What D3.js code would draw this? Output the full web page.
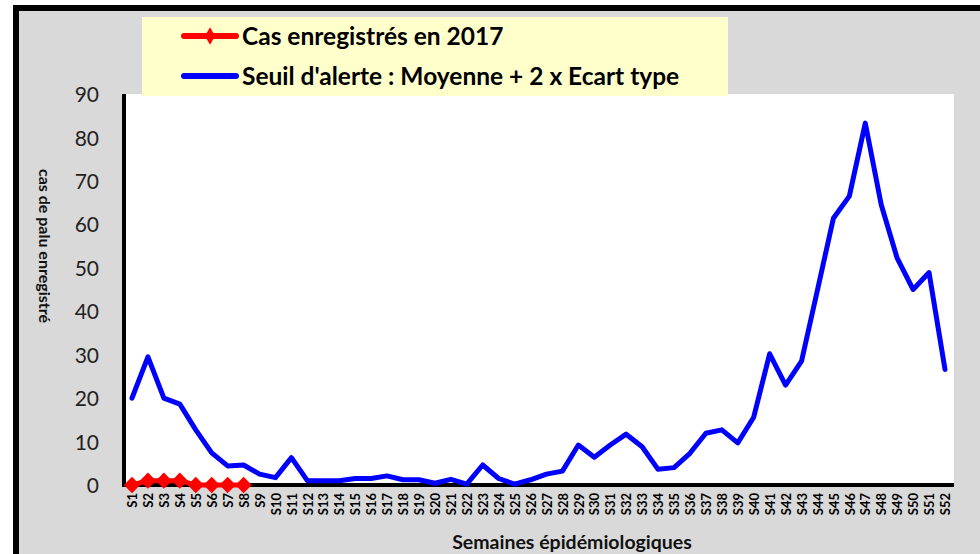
<!DOCTYPE html>
<html>
<head>
<meta charset="utf-8">
<script src="https://cdn.jsdelivr.net/npm/d3@7"></script>
<style>
  body { margin: 0; background: #fff; }
  text { font-family: Lato, "Open Sans", sans-serif; }
</style>
</head>
<body>
<div id="chart"></div>
<script>
// weeks S1..S52
const weeks = d3.range(1, 53).map(i => 'S' + i);

// cas enregistrés en 2017 (S1..S8)
const cases2017 = [0, 1, 1, 1, 0, 0, 0, 0];

// seuil d'alerte : moyenne + 2 x ecart type
const threshold = [20, 29.5, 20, 18.6, 12.7, 7.4, 4.4, 4.6, 2.5, 1.7,
  6.3, 1, 1, 1, 1.5, 1.5, 2.1, 1.2, 1.2, 0.4,
  1.3, 0.2, 4.6, 1.5, 0.2, 1.2, 2.5, 3.2, 9.2, 6.4,
  9.2, 11.7, 8.8, 3.6, 4.0, 7.3, 11.9, 12.7, 9.7, 15.6,
  30.2, 23, 28.5, 44.9, 61.4, 66.5, 83.3, 64.5, 52.2, 45,
  48.9, 26.6];

const yTicks = [0, 10, 20, 30, 40, 50, 60, 70, 80, 90];

const legendLabels = ['Cas enregistrés en 2017', "Seuil d'alerte : Moyenne + 2 x Ecart type"];

const width = 980, height = 554;
const svg = d3.select('#chart').append('svg').attr('width', width).attr('height', height);

// background panel with thick border
svg.append('rect')
  .attr('x', 16).attr('y', 8)
  .attr('width', width + 10).attr('height', height + 10)
  .style('fill', '#d9d9d9')
  .style('stroke', 'black')
  .style('stroke-width', 6);

const plot = { left: 126, right: 954, top: 94, bottom: 485 };

// white plot area
svg.append('rect')
  .attr('x', plot.left).attr('y', plot.top)
  .attr('width', plot.right - plot.left).attr('height', plot.bottom - plot.top)
  .style('fill', 'white');

const x = d3.scalePoint().domain(weeks).range([132, 945]);
const y = d3.scaleLinear().domain([0, 90]).range([plot.bottom, plot.top]);

// y axis
const yAxis = svg.append('g')
  .attr('transform', `translate(${124},0)`)
  .call(d3.axisLeft(y).tickValues(yTicks).tickSize(0).tickPadding(25));
yAxis.select('.domain').attr('d', `M0,${plot.top}V${plot.bottom + 2}`)
  .style('stroke', 'black').style('stroke-width', 4);
yAxis.selectAll('text')
  .style('font-size', '21px')
  .style('fill', '#222')
  .attr('dy', '0.36em');

// x axis
const xAxis = svg.append('g')
  .attr('transform', `translate(0,${plot.bottom})`)
  .call(d3.axisBottom(x).tickSize(0));
xAxis.select('.domain').attr('d', `M${122},0H${plot.right}`)
  .style('stroke', 'black').style('stroke-width', 4);
xAxis.selectAll('text')
  .attr('transform', 'rotate(-90)')
  .attr('x', -8)
  .attr('y', 0)
  .attr('dy', '0.36em')
  .style('text-anchor', 'end')
  .style('font-size', '13px')
  .style('font-weight', 'bold')
  .style('fill', 'black');

// axis titles
svg.append('text')
  .attr('transform', `translate(39,246) rotate(90)`)
  .style('text-anchor', 'middle')
  .style('font-size', '16px')
  .style('font-weight', 'bold')
  .style('fill', '#111')
  .text('cas de palu enregistré');

svg.append('text')
  .attr('x', 572).attr('y', 549)
  .style('text-anchor', 'middle')
  .style('font-size', '19.5px')
  .style('font-weight', 'bold')
  .style('fill', '#111')
  .text('Semaines épidémiologiques');

// threshold line
const line = d3.line().x((d, i) => x(weeks[i])).y(d => y(d));

svg.append('path')
  .datum(threshold)
  .attr('d', line)
  .style('fill', 'none')
  .style('stroke', '#0000ff')
  .style('stroke-width', 5)
  .style('stroke-linejoin', 'round')
  .style('stroke-linecap', 'round');

// 2017 cases line + diamonds
svg.append('path')
  .datum(cases2017)
  .attr('d', line)
  .style('fill', 'none')
  .style('stroke', '#ff0000')
  .style('stroke-width', 5);

const diamond = d3.symbol().type(d3.symbolDiamond2).size(170);
svg.selectAll('.pt')
  .data(cases2017)
  .join('path')
  .attr('class', 'pt')
  .attr('transform', (d, i) => `translate(${x(weeks[i])},${y(d)})`)
  .attr('d', diamond)
  .style('fill', '#ff0000');

// legend
svg.append('rect')
  .attr('x', 142).attr('y', 17)
  .attr('width', 586).attr('height', 79)
  .style('fill', '#ffffcc');

const legendColors = ['#ff0000', '#0000ff'];
const legendDiamond = d3.symbol().type(d3.symbolDiamond).size(90);
legendLabels.forEach((lab, i) => {
  const ly = 36 + i * 40;
  svg.append('line')
    .attr('x1', 184).attr('x2', 236)
    .attr('y1', ly).attr('y2', ly)
    .style('stroke', legendColors[i])
    .style('stroke-width', 6)
    .style('stroke-linecap', 'round');
  if (i === 0) {
    svg.append('path')
      .attr('transform', `translate(210,${ly})`)
      .attr('d', legendDiamond)
      .style('fill', '#ff0000');
  }
  svg.append('text')
    .attr('x', 242).attr('y', ly)
    .attr('dy', '0.36em')
    .style('font-size', '24.5px')
    .style('font-weight', 'bold')
    .style('fill', 'black')
    .text(lab);
});
</script>
</body>
</html>
